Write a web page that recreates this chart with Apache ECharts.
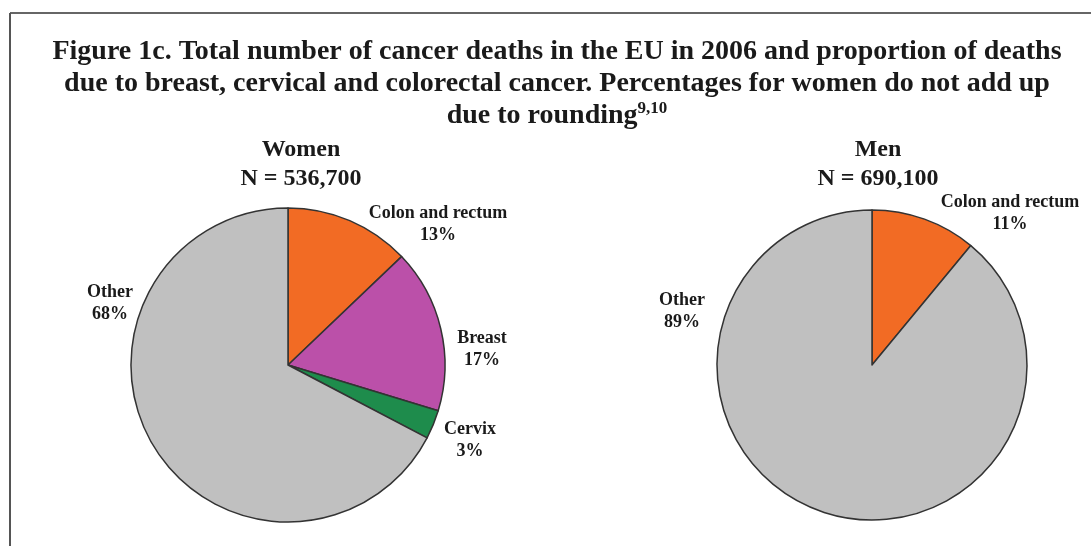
<!DOCTYPE html>
<html>
<head>
<meta charset="utf-8">
<script src="https://cdn.jsdelivr.net/npm/echarts@6/dist/echarts.min.js"></script>
<style>html,body{margin:0;padding:0;background:#fff}#c{width:1091px;height:546px}</style>
</head>
<body>
<div id="c"></div>
<script>
var womenCategories = ['Colon and rectum', 'Breast', 'Cervix', 'Other'];
var womenValues = [13, 17, 3, 68];
var menCategories = ['Colon and rectum', 'Other'];
var menValues = [11, 89];
var womenTotal = '536,700';
var menTotal = '690,100';

var colorMap = {
  'Colon and rectum': '#f26b24',
  'Breast': '#bb50a9',
  'Cervix': '#1e8c4c',
  'Other': '#c0c0c0'
};
var FONT = "'Liberation Serif','Times New Roman',serif";

var womenLabelPos = [[438, 224], [482, 349], [470, 440], [110, 303]];
var menLabelPos = [[1010, 213], [682, 311]];

function mk(cats, vals) {
  return cats.map(function (c, i) {
    return {name: c, value: vals[i], itemStyle: {color: colorMap[c]}};
  });
}
function layoutFn(posArr) {
  return function (p) {
    var pos = posArr[p.dataIndex];
    if (!pos) return {};
    return {x: pos[0], y: pos[1], align: 'center', verticalAlign: 'middle'};
  };
}

var chart = echarts.init(document.getElementById('c'));
var labelCfg = {
  show: true,
  position: 'outside',
  formatter: '{b}\n{c}%',
  fontFamily: FONT,
  fontWeight: 'bold',
  fontSize: 18,
  lineHeight: 22,
  align: 'center',
  overflow: 'none',
  color: '#1a1a1a'
};
chart.setOption({
  backgroundColor: '#ffffff',
  animation: false,
  title: [
    {
      text: 'Figure 1c. Total number of cancer deaths in the EU in 2006 and proportion of deaths\ndue to breast, cervical and colorectal cancer. Percentages for women do not add up\ndue to rounding{sup|9,10}',
      left: 552, top: 31, textAlign: 'center',
      textStyle: {
        fontFamily: FONT, fontWeight: 'bold', fontSize: 28, lineHeight: 32, color: '#1a1a1a',
        rich: {sup: {fontFamily: FONT, fontWeight: 'bold', fontSize: 17, verticalAlign: 'top', padding: [0, 0, 14, 0], color: '#1a1a1a'}}
      }
    },
    {
      text: 'Women\nN = ' + womenTotal,
      left: 296, top: 130, textAlign: 'center',
      textStyle: {fontFamily: FONT, fontWeight: 'bold', fontSize: 24, lineHeight: 29, color: '#1a1a1a'}
    },
    {
      text: 'Men\nN = ' + menTotal,
      left: 873, top: 130, textAlign: 'center',
      textStyle: {fontFamily: FONT, fontWeight: 'bold', fontSize: 24, lineHeight: 29, color: '#1a1a1a'}
    }
  ],
  graphic: [
    {type: 'line', shape: {x1: 10, y1: 13, x2: 1091, y2: 13}, style: {stroke: '#666', lineWidth: 2}},
    {type: 'line', shape: {x1: 10, y1: 13, x2: 10, y2: 546}, style: {stroke: '#555', lineWidth: 2}}
  ],
  series: [
    {
      type: 'pie', name: 'Women', center: [288, 365], radius: 157,
      startAngle: 90, clockwise: true,
      data: mk(womenCategories, womenValues),
      itemStyle: {borderColor: '#333', borderWidth: 1.5},
      label: labelCfg,
      labelLine: {show: false},
      labelLayout: layoutFn(womenLabelPos),
      emphasis: {disabled: true}
    },
    {
      type: 'pie', name: 'Men', center: [872, 365], radius: 155,
      startAngle: 90, clockwise: true,
      data: mk(menCategories, menValues),
      itemStyle: {borderColor: '#333', borderWidth: 1.5},
      label: labelCfg,
      labelLine: {show: false},
      labelLayout: layoutFn(menLabelPos),
      emphasis: {disabled: true}
    }
  ]
});
</script>
</body>
</html>
